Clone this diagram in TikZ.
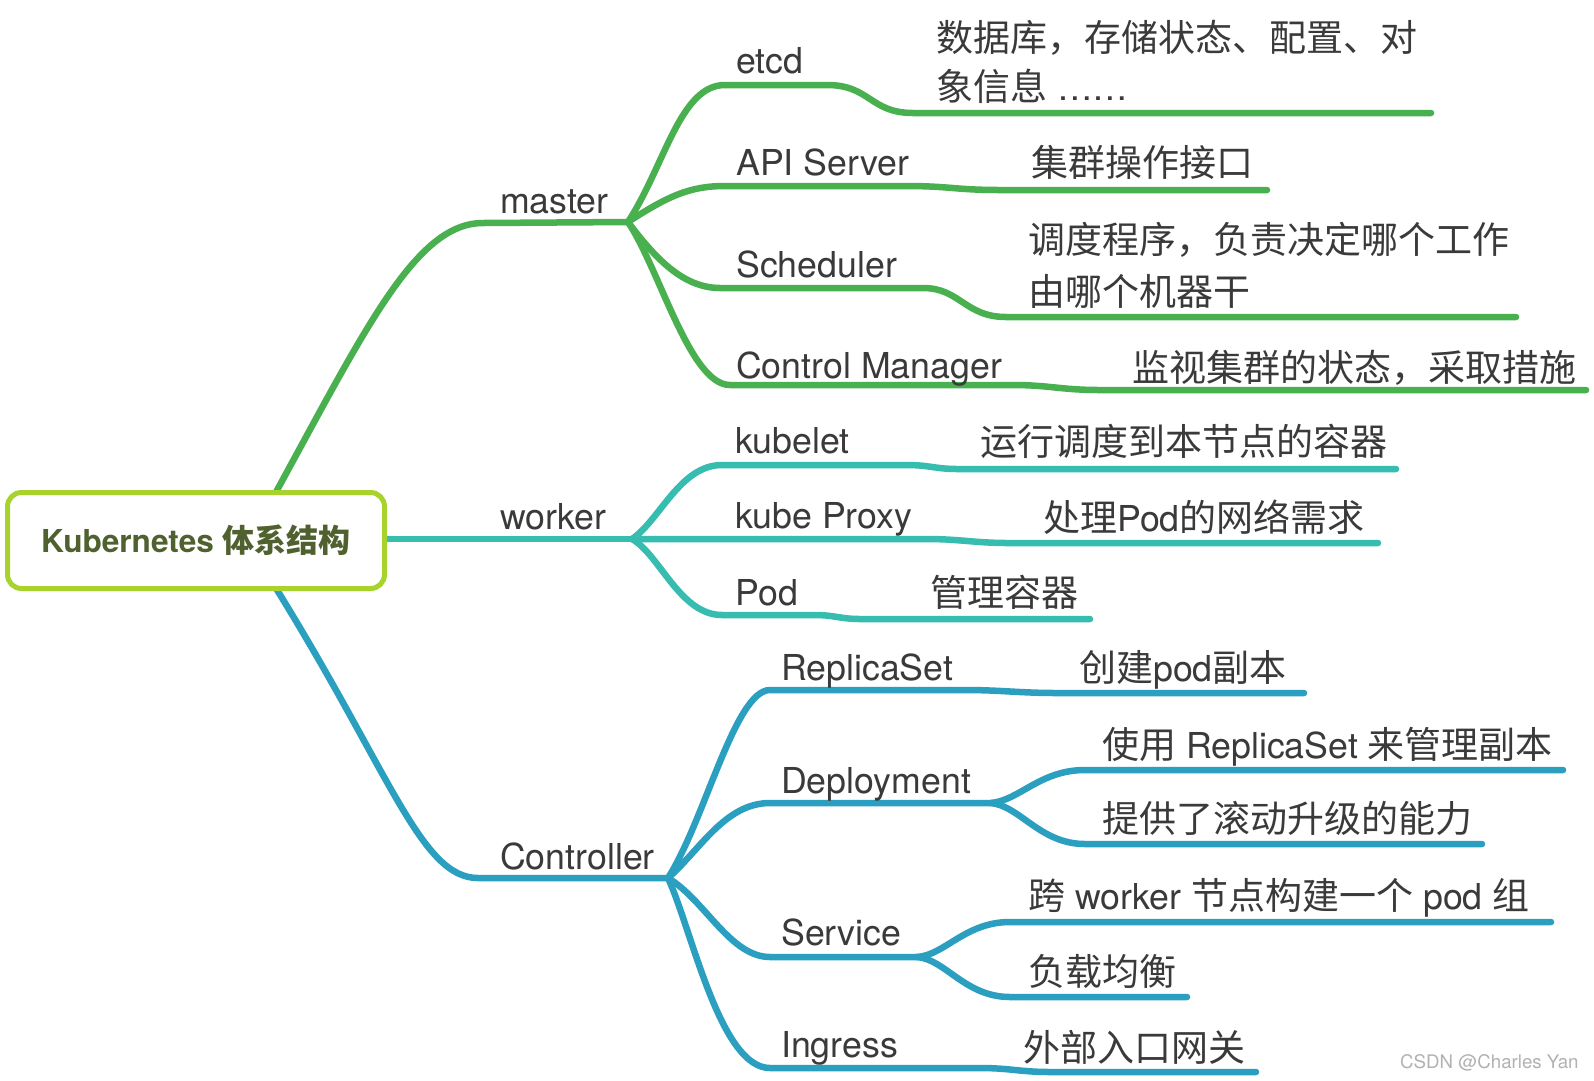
\documentclass[tikz,border=0pt]{standalone}
\usepackage{fontspec}
\setmainfont{TeX Gyre Heros}
\newfontfamily\cjk{Noto Sans CJK SC}
\definecolor{cM}{RGB}{72,176,78}
\definecolor{cW}{RGB}{54,189,176}
\definecolor{cC}{RGB}{42,159,192}
\definecolor{cRoot}{RGB}{168,210,44}
\definecolor{cRootTxt}{RGB}{80,97,48}
\definecolor{cTxt}{RGB}{58,58,58}
\definecolor{cWm}{RGB}{178,178,178}
\newcommand{\zh}[1]{{\cjk\fontsize{37}{44}\selectfont #1}}
\tikzset{
  lbl/.style={anchor=base west, inner sep=0pt, text=cTxt, font=\fontsize{35.7}{42}\selectfont},
  desc/.style={anchor=base west, inner sep=0pt, text=cTxt, font=\fontsize{35.7}{42}\selectfont},
  br/.style={line width=6.5pt, line cap=round, line join=round},
  rootbox/.style={draw=cRoot, line width=5pt, rounded corners=14pt, fill=white,
    minimum width=377pt, minimum height=96pt, inner sep=0pt, text=cRootTxt,
    text height=27pt, text depth=4pt, font=\bfseries\fontsize{31.6}{36}\selectfont},
  wmark/.style={anchor=base west, inner sep=0pt, text=cWm, font=\fontsize{18.7}{20}\selectfont}
}
\begin{document}
\begin{tikzpicture}[x=1pt,y=-1pt]
\useasboundingbox (0,0) rectangle (1594,1080);
\fill[white] (0,0) rectangle (1594,1080);

% anchor points
\coordinate (rT) at (270,503);
\coordinate (rR) at (380,539);
\coordinate (rB) at (269,577);
\coordinate (mJ) at (628,222);
\coordinate (wJ) at (632,539);
\coordinate (cJ) at (668,878);
\coordinate (dJ) at (991,803);
\coordinate (sJ) at (917,957);

\coordinate (eEtcd) at (1431,113);
\coordinate (eApi) at (1267,190);
\coordinate (eSch) at (1516,317);
\coordinate (eCm) at (1586,390);
\coordinate (eKl) at (1396,469);
\coordinate (eKp) at (1378,543);
\coordinate (ePod) at (1090,619);
\coordinate (eRs) at (1304,693);
\coordinate (eDp1) at (1563,770);
\coordinate (eDp2) at (1482,844);
\coordinate (eSv1) at (1551,922);
\coordinate (eSv2) at (1187,997);
\coordinate (eIg) at (1256,1072);

% trunks
\draw[br,cM] (rT) .. controls (365,330) and (415,223) .. (483,223) -- (mJ);
\draw[br,cW] (rR) -- (wJ);
\draw[br,cC] (rB) .. controls (390,770) and (420,878) .. (478,878) -- (cJ);

% master branches
\draw[br,cM] (mJ) .. controls (665,165) and (680,85) .. (725,85) -- (827,85)
  .. controls (870,85) and (870,113) .. (913,113) -- (eEtcd);
\draw[br,cM] (mJ) .. controls (668,196) and (690,186) .. (725,186) -- (905,186)
  .. controls (950,186) and (955,190) .. (1000,190) -- (eApi);
\draw[br,cM] (mJ) .. controls (655,258) and (683,288) .. (720,288) -- (923,288)
  .. controls (960,288) and (965,317) .. (1006,317) -- (eSch);
\draw[br,cM] (mJ) .. controls (660,270) and (690,385) .. (730,385) -- (1012,385)
  .. controls (1050,385) and (1060,390) .. (1100,390) -- (eCm);

% worker branches
\draw[br,cW] (wJ) .. controls (660,520) and (680,465) .. (722,465) -- (906,465)
  .. controls (930,465) and (935,469) .. (957,469) -- (eKl);
\draw[br,cW] (wJ) -- (926,539) .. controls (960,539) and (975,543) .. (1008,543) -- (eKp);
\draw[br,cW] (wJ) .. controls (660,555) and (680,615) .. (722,615) -- (814,615)
  .. controls (835,615) and (840,619) .. (860,619) -- (ePod);

% controller branches
\draw[br,cC] (cJ) .. controls (705,820) and (735,690) .. (770,690) -- (965,690)
  .. controls (1000,690) and (1020,693) .. (1057,693) -- (eRs);
\draw[br,cC] (cJ) .. controls (700,850) and (725,803) .. (770,803) -- (dJ);
\draw[br,cC] (dJ) .. controls (1020,800) and (1040,770) .. (1085,770) -- (eDp1);
\draw[br,cC] (dJ) .. controls (1020,806) and (1040,844) .. (1085,844) -- (eDp2);
\draw[br,cC] (cJ) .. controls (705,900) and (730,957) .. (770,957) -- (sJ);
\draw[br,cC] (sJ) .. controls (945,955) and (965,922) .. (1010,922) -- (eSv1);
\draw[br,cC] (sJ) .. controls (945,959) and (965,997) .. (1010,997) -- (eSv2);
\draw[br,cC] (cJ) .. controls (692,930) and (720,1068) .. (770,1068) -- (980,1068)
  .. controls (1010,1068) and (1020,1072) .. (1050,1072) -- (eIg);

% root
\node[rootbox] (root) at (196,540.5) {Kubernetes {\cjk\fontsize{32}{36}\selectfont 体系结构}};

% level 1 labels
\node[lbl] (master) at (500,213) {master};
\node[lbl] (worker) at (500,529) {worker};
\node[lbl] (ctrl) at (500,869) {Controller};

% level 2 labels
\node[lbl] (etcd) at (736,73) {etcd};
\node[lbl] (api) at (736,175) {API Server};
\node[lbl] (sch) at (736,277) {Scheduler};
\node[lbl] (cm) at (736,378) {Control Manager};
\node[lbl] (kl) at (735,453) {kubelet};
\node[lbl] (kp) at (735,528) {kube Proxy};
\node[lbl] (pod) at (735,605) {Pod};
\node[lbl] (rs) at (781,680) {ReplicaSet};
\node[lbl] (dp) at (781,793) {Deployment};
\node[lbl] (sv) at (781,945) {Service};
\node[lbl] (ig) at (781,1057) {Ingress};

% descriptions
\node[desc] (etcdD1) at (936,51) {\zh{数据库，存储状态、配置、对}};
\node[desc] (etcdD2) at (936,100) {\zh{象信息} ……};
\node[desc] (apiD) at (1031,176) {\zh{集群操作接口}};
\node[desc] (schD1) at (1028,253) {\zh{调度程序，负责决定哪个工作}};
\node[desc] (schD2) at (1028,305) {\zh{由哪个机器干}};
\node[desc] (cmD) at (1132,381) {\zh{监视集群的状态，采取措施}};
\node[desc] (klD) at (980,455) {\zh{运行调度到本节点的容器}};
\node[desc] (kpD) at (1043,531) {\zh{处理}Pod\zh{的网络需求}};
\node[desc] (podD) at (930,606) {\zh{管理容器}};
\node[desc] (rsD) at (1079,681) {\zh{创建}pod\zh{副本}};
\node[desc] (dpD1) at (1102,758) {\zh{使用} ReplicaSet \zh{来管理副本}};
\node[desc] (dpD2) at (1102,832) {\zh{提供了滚动升级的能力}};
\node[desc] (svD1) at (1028,909) {\zh{跨} worker \zh{节点构建一个} pod \zh{组}};
\node[desc] (svD2) at (1028,985) {\zh{负载均衡}};
\node[desc] (igD) at (1023,1061) {\zh{外部入口网关}};

% watermark
\node[wmark] (wm) at (1400,1068) {CSDN @Charles Yan};
\end{tikzpicture}
\end{document}
